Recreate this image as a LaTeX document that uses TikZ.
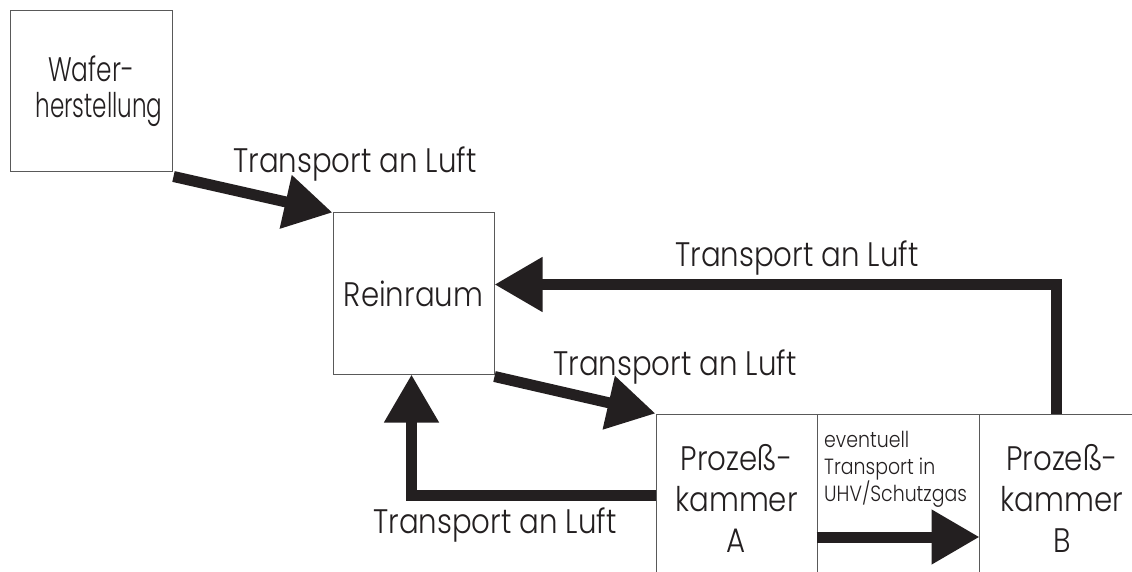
\documentclass[tikz,border=0pt]{standalone}
\usepackage{fontspec}
\setmainfont{Poppins Light}[FakeStretch=0.86]
\usetikzlibrary{arrows.meta}
\definecolor{ink}{HTML}{231F20}
\tikzset{
  box/.style={draw=black!65, line width=1pt, rectangle, inner sep=0pt, align=center,
    font=\fontsize{34}{41}\selectfont, text=ink},
  lbl/.style={inner sep=0pt, anchor=base, text=ink, font=\fontsize{34}{41}\selectfont},
  small/.style={inner sep=0pt, anchor=base west, align=left, text=ink, font=\fontsize{22}{27}\selectfont},
  flow/.style={line width=11pt, -{Triangle[length=48pt,width=52pt]}, draw=ink}
}
\begin{document}
\begin{tikzpicture}[x=1pt,y=-1pt]
\useasboundingbox (0,0) rectangle (1132,572);
\clip (0,0) rectangle (1132,572);
% boxes
\node[box, minimum width=162pt, minimum height=161pt, font=\fontsize{34}{36}\selectfont] (waf) at (91,91.5) {\scalebox{0.85}[1]{Wafer-}\\\hspace*{16pt}\scalebox{0.79}[1]{herstellung}};
\node[box, minimum width=161pt, minimum height=161pt] (rein) at (413.5,293.5) {Reinraum};
\node[box, minimum width=161pt, minimum height=168pt] (pA) at (736.5,498) {Prozeß-\\kammer\\A};
\node[box, minimum width=162pt, minimum height=168pt] (mid) at (898,498) {};
\node[box, minimum width=166pt, minimum height=168pt] (pB) at (1062,498) {Prozeß-\\kammer\\B};
\node[small] (midtxt) at (824,501) {eventuell\\Transport in\\UHV/Schutzgas};
% labels
\node[lbl] (l1) at (355,173) {Transport an Luft};
\node[lbl] (l2) at (797,266) {Transport an Luft};
\node[lbl] (l3) at (675,375) {Transport an Luft};
\node[lbl] (l4) at (495,533) {Transport an Luft};
% connectors
\draw[flow] ([shift={(1pt,-4pt)}]waf.south east) -- (rein.north west);
\draw[flow] ([xshift=-6pt]pB.north) |- ([yshift=9pt]rein.east);
\draw[flow] ([yshift=-2pt]rein.south east) -- (pA.north west);
\draw[flow] ([yshift=2.5pt]pA.west) -| ([xshift=-2pt]rein.south);
\draw[flow] ([yshift=-39pt]mid.west) -- ([yshift=-39pt]mid.east);
\end{tikzpicture}
\end{document}
